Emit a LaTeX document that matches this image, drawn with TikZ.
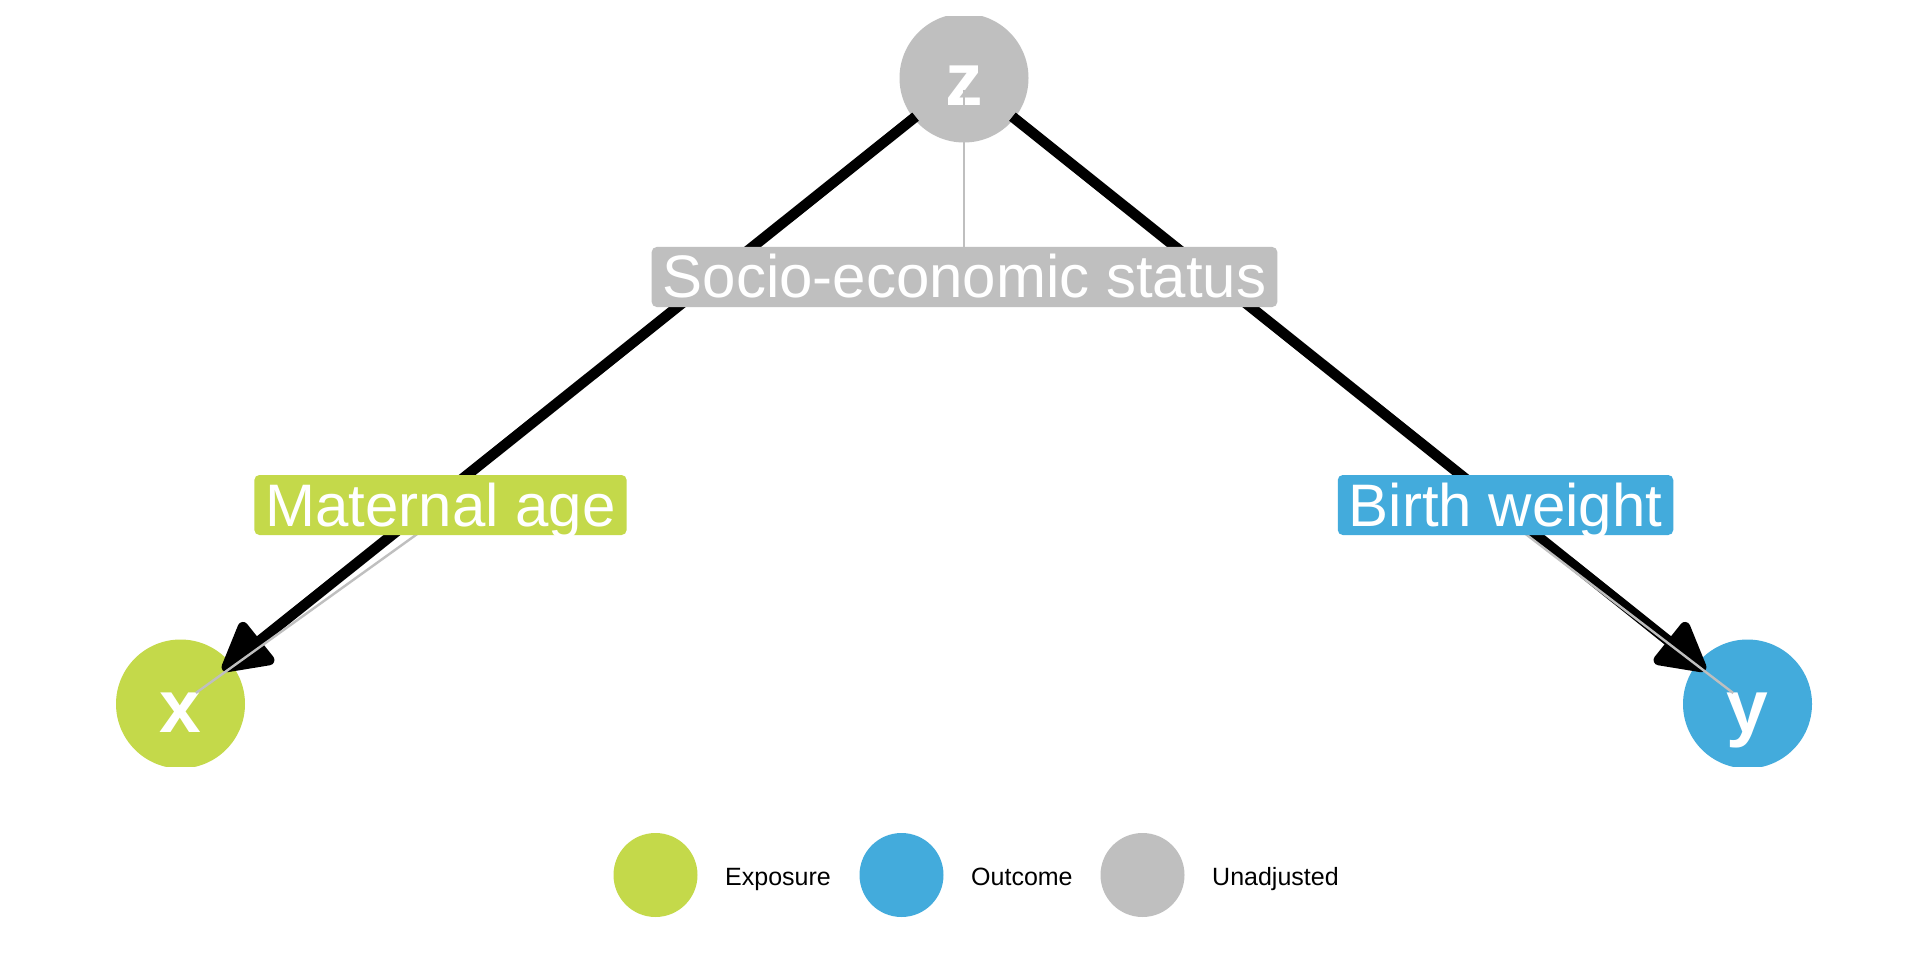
\documentclass[tikz,border=0pt]{standalone}
\usepackage{fontspec}
\setmainfont{Liberation Sans}
\usetikzlibrary{arrows.meta,calc}
\definecolor{expo}{HTML}{C4D94A}
\definecolor{outc}{HTML}{43ABDC}
\definecolor{unadj}{HTML}{BFBFBF}
\begin{document}
\begin{tikzpicture}[x=1pt,y=-1pt,
 dagnode/.style={circle,minimum size=129pt,inner sep=0pt,draw=none},
 nodetxt/.style={anchor=base,inner sep=0pt,text=white,font=\fontsize{75}{80}\selectfont\bfseries},
 edge/.style={line width=10.5pt,draw=black,-{Triangle[length=54pt,width=57pt,round]}},
 seg/.style={line width=2.4pt,draw=unadj},
 lbl/.style={rounded corners=5pt,inner xsep=11pt,inner ysep=0pt,text height=51pt,text depth=9pt,text=white,font=\fontsize{60}{66}\selectfont},
 legdot/.style={circle,minimum size=84pt,inner sep=0pt,draw=none},
 legtxt/.style={anchor=base west,inner sep=0pt,text=black,font=\fontsize{25}{30}\selectfont}]
\useasboundingbox[fill=white] (0,0) rectangle (1920,960);
% DAG nodes (clipped to the panel)
\begin{scope}
\clip (0,17) rectangle (1920,766);
\node[dagnode,fill=unadj] (z) at (964,78) {};
\node[dagnode,fill=expo] (x) at (180.5,704) {};
\node[dagnode,fill=outc] (y) at (1747.5,704) {};
\end{scope}
\node[nodetxt] (zt) at (964,106) {z};
\node[nodetxt] (xt) at (180.5,732) {x};
\node[nodetxt] (yt) at (1747.5,732) {y};
% edges
\draw[edge] ($(z.center)!62pt!(x.center)$) -- ($(x.center)!54pt!(z.center)$);
\draw[edge] ($(z.center)!62pt!(y.center)$) -- ($(y.center)!54pt!(z.center)$);
% label anchors
\coordinate (zl) at (964.5,277);
\coordinate (xl) at (440.5,505);
\coordinate (yl) at (1505.5,505);
\coordinate (zs) at (964,260);
\coordinate (xs) at (420,532);
\coordinate (ys) at (1523,532);
% repel segments
\draw[seg] ($(z.center)!12pt!(zs)$) -- (zs);
\draw[seg] ($(x.center)!19pt!(xs)$) -- (xs);
\draw[seg] ($(y.center)!18pt!(ys)$) -- (ys);
% labels
\node[lbl,fill=unadj] (zlab) at (zl) {Socio-economic status};
\node[lbl,fill=expo] (xlab) at (xl) {Maternal age};
\node[lbl,fill=outc] (ylab) at (yl) {Birth weight};
% legend
\node[legdot,fill=expo] (l1) at (655.5,875) {};
\node[legtxt] (t1) at (725,885) {Exposure};
\node[legdot,fill=outc] (l2) at (901.5,875) {};
\node[legtxt] (t2) at (971,885) {Outcome};
\node[legdot,fill=unadj] (l3) at (1142.5,875) {};
\node[legtxt] (t3) at (1212,885) {Unadjusted};
\end{tikzpicture}
\end{document}
